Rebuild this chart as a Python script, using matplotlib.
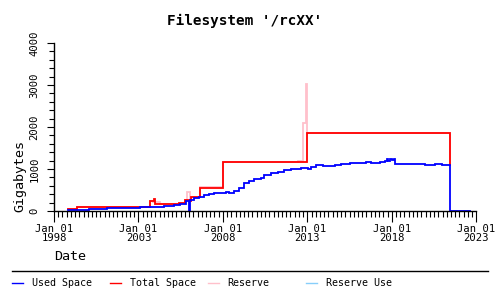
import matplotlib
matplotlib.use('Agg')
import matplotlib.pyplot as plt
import matplotlib.dates as mdates
from matplotlib.lines import Line2D
from matplotlib.ticker import MultipleLocator
import datetime as dt

# ---------------- data (decimal years, gigabytes) ----------------
used_years = [1998.83, 2000.08, 2001.15, 2003.10, 2003.70, 2004.49, 2005.08, 2005.48,
              2005.84, 2006.00, 2006.03, 2006.30, 2006.58, 2006.90, 2007.17, 2007.50,
              2007.86, 2008.16, 2008.36, 2008.65, 2008.95, 2009.25, 2009.55, 2009.85,
              2010.24, 2010.44, 2010.84, 2011.24, 2011.63, 2012.03, 2012.63, 2012.92,
              2013.02, 2013.22, 2013.52, 2013.92, 2014.41, 2014.61, 2015.01, 2015.50,
              2016.00, 2016.49, 2016.79, 2017.29, 2017.58, 2017.70, 2017.80, 2017.90,
              2018.00, 2018.10, 2018.18, 2018.58, 2019.17, 2019.57, 2019.96, 2020.56,
              2020.96, 2021.45, 2022.65]
used_gb = [24, 48, 71, 88, 103, 119, 143, 167,
           240, 0, 262, 302, 340, 380, 405, 420,
           436, 452, 436, 476, 555, 659, 722, 762,
           778, 857, 897, 928, 976, 1000, 1031, 1015,
           1000, 1055, 1088, 1071, 1079, 1103, 1126, 1142,
           1150, 1166, 1142, 1166, 1190, 1230, 1200, 1240,
           1210, 1240, 1125, 1126, 1111, 1119, 1103, 1111,
           1095, 0, 0]

total_years = [1998.83, 1999.37, 2003.70, 2003.93, 2003.97, 2005.38, 2005.78, 2006.04,
               2006.12, 2006.67, 2008.02, 2013.00, 2021.45]
total_gb = [55, 88, 245, 280, 167, 198, 262, 230,
            340, 555, 1160, 1849, 1095]

reserve_years = [1998.83, 1999.37, 2003.70, 2003.89, 2004.29, 2005.38, 2005.78, 2005.88,
                 2006.04, 2006.12, 2006.67, 2008.02, 2012.46, 2012.76, 2012.94, 2013.00,
                 2021.45]
reserve_gb = [55, 88, 245, 214, 167, 198, 262, 460,
              230, 340, 580, 1160, 1200, 2087, 3022, 1849,
              1095]

tick_years = [1998, 2003, 2008, 2013, 2018, 2023]
tick_labels = ['Jan 01\n%d' % y for y in tick_years]

legend_labels = ['Used Space', 'Total Space', 'Reserve', 'Reserve Use']
legend_colors = ['#0000ff', '#ff0000', '#ffc0cb', '#87cefa']


def yr(d):
    y = int(d)
    s = dt.datetime(y, 1, 1)
    e = dt.datetime(y + 1, 1, 1)
    return s + (e - s) * (d - y)


FONT = 'DejaVu Sans Mono'
plt.rcParams['font.family'] = FONT

W, H = 500, 300
fig = plt.figure(figsize=(5, 3), dpi=100)
ax = fig.add_axes([54 / W, 1 - 211 / H, (476.3 - 54) / W, (211 - 43) / H])

ax.plot([yr(v) for v in reserve_years], reserve_gb, drawstyle='steps-post',
        color=legend_colors[2], lw=1.3, solid_joinstyle='miter')
ax.plot([yr(v) for v in total_years], total_gb, drawstyle='steps-post',
        color=legend_colors[1], lw=1.3, solid_joinstyle='miter')
ax.plot([yr(v) for v in used_years], used_gb, drawstyle='steps-post',
        color=legend_colors[0], lw=1.3, solid_joinstyle='miter')

ax.set_xlim(yr(1998.0), yr(2023.0))
ax.set_ylim(0, 4000)

ax.set_xticks([mdates.date2num(yr(y)) for y in tick_years])
ax.set_xticklabels(tick_labels, fontsize=7.6, linespacing=0.95)
ax.xaxis.set_minor_locator(mdates.MonthLocator(bymonth=[1, 4, 7, 10]))

ax.yaxis.set_major_locator(MultipleLocator(1000))
ax.yaxis.set_minor_locator(MultipleLocator(200))
for lab in ax.get_yticklabels():
    pass
ax.tick_params(axis='y', which='major', length=5.4, width=0.8, labelsize=7.6,
               labelrotation=90, pad=5)
ax.tick_params(axis='y', which='minor', length=3.8, width=0.8)
ax.tick_params(axis='x', which='major', length=7.6, width=0.8, pad=1.5)
ax.tick_params(axis='x', which='minor', length=4.0, width=0.8)
for lab in ax.get_yticklabels():
    lab.set_verticalalignment('center')

for s in ['top', 'right']:
    ax.spines[s].set_visible(False)
for s in ['left', 'bottom']:
    ax.spines[s].set_linewidth(1.0)

fig.text(245 / W, 1 - 21 / H, "Filesystem '/rcXX'", ha='center', va='center',
         fontsize=10.3, fontweight='bold')
fig.text(20 / W, 1 - 176 / H, 'Gigabytes', rotation=90, ha='center', va='center',
         fontsize=9.6)
fig.text(54 / W, 1 - 256 / H, 'Date', ha='left', va='center', fontsize=9.6)

# separator line
fig.add_artist(Line2D([12.3 / W, 488.3 / W], [1 - 271 / H, 1 - 271 / H],
                      color='black', lw=1.0, transform=fig.transFigure))

line_x = [12.3, 110, 208.3, 306]
text_x = [31.7, 130, 227.7, 325.7]
ly = 1 - 282.5 / H
for lx, tx, lab, c in zip(line_x, text_x, legend_labels, legend_colors):
    fig.add_artist(Line2D([lx / W, (lx + 10.5) / W], [ly, ly], color=c, lw=1.0,
                          transform=fig.transFigure))
    fig.text(tx / W, ly, lab, ha='left', va='center', fontsize=7.2)

fig.savefig('out.png', dpi=100)
